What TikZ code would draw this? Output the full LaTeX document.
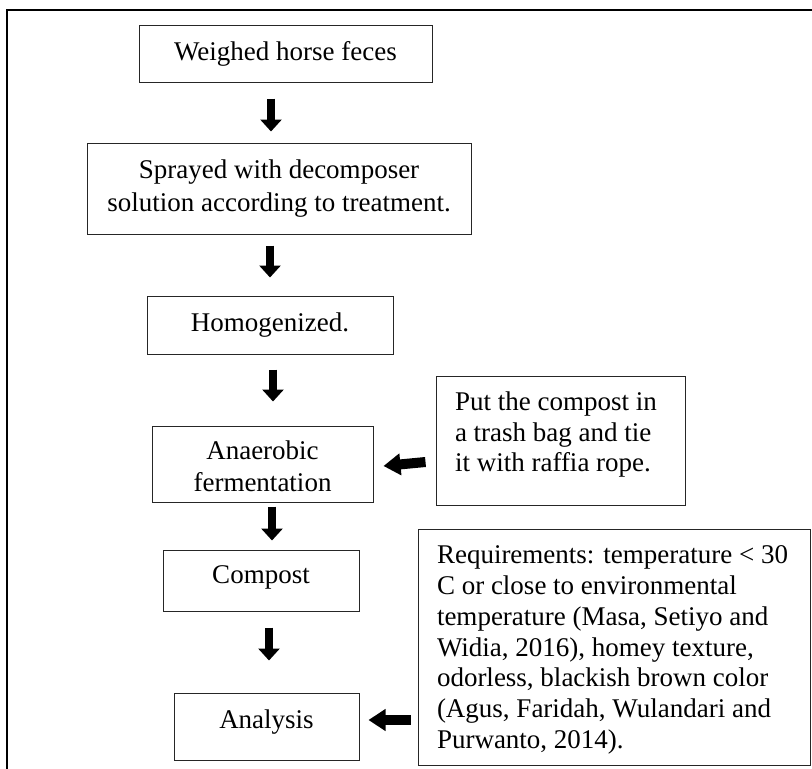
\documentclass[tikz,border=0pt]{standalone}
\usepackage{fontspec}
\setmainfont{Liberation Serif}
\usetikzlibrary{arrows.meta}

\newcommand{\highstrut}[1]{\rule{0pt}{#1}}
\newcommand{\lowstrut}[1]{\rule[-#1]{0pt}{#1}}

\tikzset{
  stepbox/.style={draw=black!85, line width=1pt, inner sep=0pt, align=center,
    font=\fontsize{27}{33}\selectfont},
  notebox/.style={stepbox, align=flush left, font=\fontsize{27}{30.8}\selectfont},
  downarrow/.style={line width=8pt, -{Triangle[width=21pt,length=12pt]}},
  sidearrow/.style={line width=10pt, -{Triangle[width=21pt,length=17pt]}},
}

\begin{document}
\begin{tikzpicture}[x=1pt,y=-1pt]
    % cadre
    \useasboundingbox (0,0) rectangle (812,769);
    \draw[line width=2pt] (6,10) -- (812,10);
    \draw[line width=1.5pt] (7,10) -- (7,769);
    % étapes
    \node[stepbox, minimum width=293pt, minimum height=57pt] (weighed) at (285.5,53.5) {Weighed horse feces};
    \node[stepbox, minimum width=384pt, minimum height=91pt] (sprayed) at (279,188.5) {Sprayed with decomposer\\solution according to treatment.};
    \node[stepbox, minimum width=246pt, minimum height=58pt] (homog) at (270,325) {Homogenized.};
    \node[stepbox, minimum width=221pt, minimum height=76pt, font=\fontsize{27}{32}\selectfont] (anaer) at (262.5,464) {\highstrut{24pt}Anaerobic\\fermentation};
    \fill[white] (153.5,491.5) rectangle (371.5,501.5); % texte coupé
    \node[stepbox, minimum width=196pt, minimum height=61pt] (compost) at (261,580.5) {Compost\lowstrut{11.3pt}};
    \node[stepbox, minimum width=185pt, minimum height=67pt] (analysis) at (266.5,726.5) {Analysis\lowstrut{15.4pt}};
    % remarques
    \node[notebox, minimum width=249pt, minimum height=129pt, text width=211pt] (bag) at (560.5,440.5) {Put the compost in\\a trash bag and tie\\it with raffia rope.\lowstrut{17.4pt}};
    \node[notebox, minimum width=392pt, minimum height=236pt, text width=354pt] (req) at (614,647) {\highstrut{24pt}Requirements: temperature <~30\\C or close to environmental\\temperature (Masa, Setiyo and\\Widia, 2016), homey texture,\\odorless, blackish brown color\\(Agus, Faridah, Wulandari and\\Purwanto, 2014).};
    % flèches
    \draw[downarrow] ([xshift=-14.5pt,yshift=-16pt]weighed.south) -- ([xshift=-8pt,yshift=11pt]sprayed.north);
    \draw[downarrow] ([xshift=-9pt,yshift=-11pt]sprayed.south) -- ([yshift=18pt]homog.north);
    \draw[downarrow] ([xshift=3pt,yshift=-15pt]homog.south) -- ([xshift=10.5pt,yshift=24pt]anaer.north);
    \draw[downarrow] ([xshift=9.5pt,yshift=-4pt]anaer.south) -- ([xshift=11pt,yshift=9pt]compost.north);
    \draw[downarrow] ([xshift=8pt,yshift=-16pt]compost.south) -- ([xshift=2.5pt,yshift=32pt]analysis.north);
    \draw[sidearrow] ([xshift=-10pt,yshift=-21.5pt]bag.west) -- ([xshift=10pt,yshift=-2pt]anaer.east);
    \draw[sidearrow] ([xshift=-7pt,yshift=-73pt]req.west) -- ([xshift=9pt,yshift=6.5pt]analysis.east);
\end{tikzpicture}
\end{document}
